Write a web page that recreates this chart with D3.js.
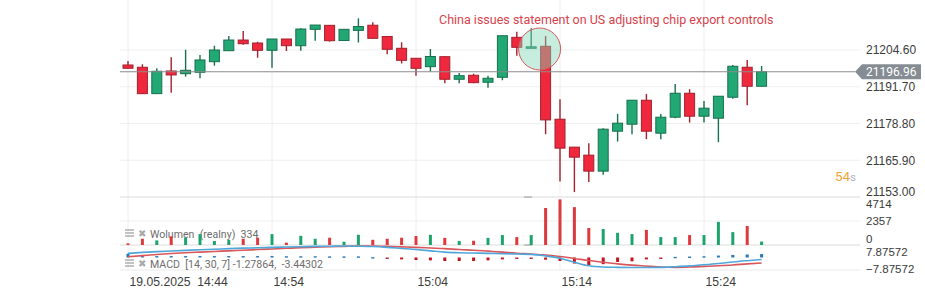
<!DOCTYPE html>
<html>
<head>
<meta charset="utf-8">
<script src="https://cdnjs.cloudflare.com/ajax/libs/d3/7.8.5/d3.min.js"></script>
<style>
  body { margin: 0; background: #fff; }
  svg { display: block; font-family: Roboto, "Open Sans", sans-serif; }
</style>
</head>
<body>
<div class="chart"></div>
<script>
/* global d3 */

// one candle per minute, 19.05.2025
const times = ['14:44', '14:45', '14:46', '14:47', '14:48', '14:49', '14:50', '14:51', '14:52', '14:53',
  '14:54', '14:55', '14:56', '14:57', '14:58', '14:59', '15:00', '15:01', '15:02', '15:03',
  '15:04', '15:05', '15:06', '15:07', '15:08', '15:09', '15:10', '15:11', '15:12', '15:13',
  '15:14', '15:15', '15:16', '15:17', '15:18', '15:19', '15:20', '15:21', '15:22', '15:23',
  '15:24', '15:25', '15:26', '15:27', '15:28'];

const opens = [21199.34, 21198.54, 21189.28, 21197.24, 21196.29, 21196.78, 21200.50, 21204.35, 21208.10, 21207.05,
  21204.50, 21208.46, 21206.11, 21211.86, 21213.26, 21207.93, 21211.50, 21213.30, 21209.33, 21205.20,
  21201.69, 21198.75, 21202.25, 21194.33, 21195.73, 21193.28, 21195.03, 21209.05, 21205.20, 21205.90,
  21180.31, 21170.50, 21167.69, 21162.08, 21176.10, 21178.56, 21186.97, 21175.40, 21181.01, 21189.42,
  21181.36, 21180.66, 21188.02, 21198.54, 21191.88];
const highs = [21200.74, 21199.59, 21198.19, 21202.04, 21204.70, 21202.85, 21206.11, 21209.51, 21211.26, 21207.51,
  21208.46, 21208.46, 21212.20, 21213.36, 21213.36, 21211.96, 21215.71, 21214.34, 21209.40, 21207.30,
  21201.80, 21204.95, 21202.30, 21196.54, 21196.29, 21195.59, 21209.61, 21211.01, 21212.20, 21209.51,
  21187.32, 21170.60, 21171.90, 21177.16, 21182.17, 21187.05, 21189.18, 21182.17, 21192.68, 21190.83,
  21186.72, 21188.45, 21199.34, 21201.10, 21198.99];
const lows = [21198.12, 21189.20, 21189.20, 21189.63, 21195.24, 21194.68, 21199.10, 21204.25, 21206.46, 21201.90,
  21198.40, 21204.25, 21204.35, 21207.86, 21207.58, 21207.86, 21207.23, 21208.60, 21203.10, 21199.87,
  21195.59, 21196.99, 21192.93, 21192.93, 21192.93, 21191.39, 21193.98, 21202.60, 21205.20, 21175.05,
  21158.44, 21154.72, 21158.23, 21160.79, 21172.46, 21175.05, 21173.30, 21173.30, 21180.66, 21179.12,
  21179.12, 21172.25, 21187.53, 21185.22, 21191.80];
const closes = [21198.19, 21189.28, 21197.13, 21195.84, 21197.48, 21201.10, 21204.60, 21208.10, 21206.81, 21204.50,
  21208.46, 21206.11, 21211.96, 21213.36, 21207.86, 21211.86, 21212.84, 21208.70, 21204.85, 21200.99,
  21198.19, 21202.32, 21194.33, 21195.59, 21193.14, 21194.68, 21209.61, 21205.55, 21205.72, 21180.06,
  21170.15, 21166.99, 21162.08, 21176.81, 21178.91, 21186.97, 21176.10, 21181.01, 21189.42, 21181.36,
  21184.17, 21188.37, 21198.89, 21191.88, 21196.96];

const volumes = [160, 615, 455, 845, 715, 1070, 390, 490, 615, 715,
  1070, 230, 900, 615, 715, 320, 1005, 510, 615, 715,
  880, 1000, 700, 400, 420, 700, 975, 780, 975, 3635,
  4480, 3720, 1670, 1570, 1200, 1070, 1480, 780, 780, 975,
  975, 2270, 1265, 1870, 334];

const macdLine = [2.6, 3.2, 3.7, 4.1, 4.5, 4.9, 5.2, 5.6, 5.9, 6.1,
  6.4, 6.6, 6.8, 7.0, 7.1, 7.2, 7.1, 6.9, 6.4, 5.7,
  5.0, 4.2, 3.4, 3.0, 2.8, 2.6, 2.4, 2.2, 2.0, 1.0,
  -0.5, -3.0, -5.2, -6.0, -6.2, -6.3, -6.3, -6.2, -5.8, -5.3,
  -4.6, -3.8, -2.8, -2.0, -1.27864];
const signalLine = [0.5, 1.2, 1.9, 2.5, 3.0, 3.4, 3.8, 4.2, 4.6, 5.0,
  5.4, 5.8, 6.2, 6.5, 6.8, 7.0, 7.2, 7.2, 7.0, 6.7,
  6.4, 6.0, 5.6, 5.0, 4.6, 4.0, 3.4, 2.7, 2.2, 1.6,
  0.6, -0.6, -1.9, -3.0, -4.0, -4.8, -5.4, -6.0, -6.2, -6.0,
  -5.6, -5.2, -4.7, -4.0, -3.44302];
const histogram = [2.4, 0.9, 0.9, 0.9, 0.9, 0.9, 0.9, 0.9, 0.9, 0.9,
  0.9, 0.8, 0.8, 0.8, 0.7, 0.7, 0.7, 0.2, -0.6, -1.2,
  -1.6, -1.8, -2.2, -2.2, -2.2, -1.8, -1.2, -0.6, -0.2, -1.4,
  -2.2, -3.8, -4.8, -4.2, -2.8, -2.4, -1.2, -0.2, 0.4, 0.6,
  0.8, 1.2, 1.6, 1.9, 2.16];

const priceTicks = [21204.60, 21191.70, 21178.80, 21165.90, 21153.00];
const volumeTicks = [4714, 2357, 0];
const macdTicks = [7.87572, -7.87572];
const timeTicks = ['14:44', '14:54', '15:04', '15:14', '15:24'];
const lastPrice = 21196.96;
const eventText = 'China issues statement on US adjusting chip export controls';
const eventTime = '15:13';

const candles = times.map((t, i) => ({
  t: t, o: opens[i], h: highs[i], l: lows[i], c: closes[i], v: volumes[i],
  macd: macdLine[i], sig: signalLine[i], hist: histogram[i]
}));

document.addEventListener('DOMContentLoaded', () => {
  const width = 925;
  const height = 292;
  const left = 120;
  const right = 860;
  const axisX = 866;

  const red = '#f0283d';
  const redDark = '#a3202c';
  const green = '#22a874';
  const greenDark = '#17704d';

  const parse = d3.timeParse('%H:%M');

  const x = d3.scaleTime().domain([parse('14:44'), parse('15:24')]).range([128, 704]);
  const y = d3.scaleLinear().domain([21153, 21204.6]).range([197, 50]);
  const yVol = d3.scaleLinear().domain([0, 4714]).range([245, 197]);
  const yMacd = d3.scaleLinear().domain([-7.87572, 7.87572]).range([270, 245]);

  const svg = d3.select('.chart').append('svg')
    .attr('width', width).attr('height', height);

  // grid
  const grid = svg.append('g');
  grid.selectAll('.vgrid').data(timeTicks).enter().append('line')
    .attr('x1', d => x(parse(d))).attr('x2', d => x(parse(d)))
    .attr('y1', 0).attr('y2', 270)
    .attr('stroke', '#eeeeee');
  grid.selectAll('.hgrid').data(priceTicks.slice(0, 4)).enter().append('line')
    .attr('x1', left).attr('x2', right)
    .attr('y1', d => y(d)).attr('y2', d => y(d))
    .attr('stroke', '#efefef');
  grid.append('line').attr('x1', left).attr('x2', right)
    .attr('y1', yVol(2357)).attr('y2', yVol(2357)).attr('stroke', '#efefef');
  // pane borders
  [197, 245, 270].forEach((py, i) => {
    grid.append('line').attr('x1', left).attr('x2', right)
      .attr('y1', py).attr('y2', py)
      .attr('stroke', i === 2 ? '#eaeaea' : '#dcdcdc');
  });
  // pane handles
  [196, 244].forEach(py => {
    grid.append('rect').attr('x', 524).attr('y', py).attr('width', 8).attr('height', 2)
      .attr('fill', '#c4c4c4');
  });

  // legends (drawn under the volume bars)
  const legend = svg.append('g').attr('fill', '#6e6e6e').style('font-size', '10.6px');
  function legendIcons(cy) {
    [-3, 0, 3].forEach(dy => {
      legend.append('rect').attr('x', 125).attr('y', cy + dy - 0.7)
        .attr('width', 9).attr('height', 1.4).attr('fill', '#aaa');
    });
    legend.append('text').attr('x', 138).attr('y', cy + 4)
      .style('font-family', 'DejaVu Sans').style('font-size', '10px')
      .attr('fill', '#aaa').text('\u2716');
  }
  legendIcons(233);
  legendIcons(263);
  legend.append('text').attr('x', 150).attr('y', 238).style('white-space', 'pre')
    .text('Wolumen  (realny)  334');
  legend.append('text').attr('x', 150).attr('y', 268).style('white-space', 'pre')
    .text('MACD  [14, 30, 7] -1.27864,  -3.44302');

  // volume
  svg.append('g').selectAll('rect').data(candles).enter().append('rect')
    .attr('x', d => x(parse(d.t)) - 1.5)
    .attr('y', d => yVol(d.v))
    .attr('width', 3)
    .attr('height', d => yVol(0) - yVol(d.v))
    .attr('fill', d => d.c >= d.o ? '#1ea36c' : '#dd3a3e');

  // macd histogram
  svg.append('g').selectAll('rect').data(candles).enter().append('rect')
    .attr('x', d => x(parse(d.t)) - 1.5)
    .attr('y', d => Math.min(yMacd(0), yMacd(d.hist)))
    .attr('width', 3)
    .attr('height', d => Math.max(1.4, Math.abs(yMacd(d.hist) - yMacd(0))))
    .attr('fill', d => d.hist >= 0 ? '#2677b5' : '#c3121c');

  const macdPath = key => d3.line()
    .x(d => x(parse(d.t)))
    .y(d => yMacd(d[key]))
    .curve(d3.curveMonotoneX);
  svg.append('path').datum(candles).attr('d', macdPath('sig'))
    .attr('fill', 'none').attr('stroke', '#d9575a').attr('stroke-width', 1.6);
  svg.append('path').datum(candles).attr('d', macdPath('macd'))
    .attr('fill', 'none').attr('stroke', '#4fa6da').attr('stroke-width', 1.6);

  // candles
  const cg = svg.append('g').selectAll('g').data(candles).enter().append('g');
  cg.append('line')
    .attr('x1', d => x(parse(d.t))).attr('x2', d => x(parse(d.t)))
    .attr('y1', d => y(d.h)).attr('y2', d => y(d.l))
    .attr('stroke', d => d.c >= d.o ? greenDark : redDark)
    .attr('stroke-width', 1.4);
  cg.append('rect')
    .attr('x', d => x(parse(d.t)) - 5)
    .attr('y', d => y(Math.max(d.o, d.c)))
    .attr('width', 10)
    .attr('height', d => Math.max(1, Math.abs(y(d.o) - y(d.c))))
    .attr('fill', d => d.c >= d.o ? green : red)
    .attr('stroke', d => d.c >= d.o ? greenDark : redDark)
    .attr('stroke-width', 1);

  // last price line
  svg.append('line').attr('x1', left).attr('x2', 855)
    .attr('y1', y(lastPrice)).attr('y2', y(lastPrice))
    .attr('stroke', '#8c8c8c').attr('stroke-width', 1.2);

  // event marker
  const ev = candles.find(d => d.t === eventTime);
  svg.append('circle')
    .attr('cx', x(parse(eventTime)) - 6)
    .attr('cy', y(ev.o) + 2.7)
    .attr('r', 21)
    .attr('fill', 'rgba(130, 215, 185, 0.45)')
    .attr('stroke', '#d9585c').attr('stroke-width', 1);
  svg.append('text').attr('x', 439).attr('y', 24)
    .attr('fill', '#d8424b').style('font-size', '12.5px')
    .text(eventText);

  // right axes
  const axisText = (sel, dys) => sel.selectAll('text')
    .attr('fill', '#3c3c3c').style('font-size', '12px')
    .attr('x', 0).attr('dy', (d, i) => dys[i]);

  const priceAxis = svg.append('g').attr('transform', `translate(${axisX},0)`)
    .call(d3.axisRight(y).tickValues(priceTicks).tickFormat(d3.format('.2f')).tickSize(0));
  priceAxis.select('.domain').remove();
  priceAxis.call(s => axisText(s, ['0.32em', '0.3em', '0.32em', '0.32em', '-0.1em']));

  const volAxis = svg.append('g').attr('transform', `translate(${axisX},0)`)
    .call(d3.axisRight(yVol).tickValues(volumeTicks).tickFormat(d3.format('d')).tickSize(0));
  volAxis.select('.domain').remove();
  volAxis.call(s => axisText(s, ['0.9em', '0.3em', '-0.2em']));
  volAxis.selectAll('text').style('font-size', '11.5px');

  const macdAxis = svg.append('g').attr('transform', `translate(${axisX},0)`)
    .call(d3.axisRight(yMacd).tickValues(macdTicks).tickFormat(d3.format('.5f')).tickSize(0));
  macdAxis.select('.domain').remove();
  macdAxis.call(s => axisText(s, ['0.95em', '0.2em']));
  macdAxis.selectAll('text').style('font-size', '11.5px');

  // last price tag
  const ly = y(lastPrice);
  svg.append('path')
    .attr('d', `M855,${ly} L862,${ly - 7.5} L921,${ly - 7.5} L921,${ly + 7.5} L862,${ly + 7.5} Z`)
    .attr('fill', '#858c93');
  svg.append('text').attr('x', axisX).attr('y', ly + 4.5)
    .attr('fill', '#fff').style('font-size', '12px').text(d3.format('.2f')(lastPrice));

  // countdown
  const cd = svg.append('text').attr('x', 835).attr('y', 181);
  cd.append('tspan').attr('fill', '#f0a43a').style('font-size', '13.5px').text('54');
  cd.append('tspan').attr('fill', '#a8b4c0').style('font-size', '11px').text('s');

  // time axis
  const timeAxis = svg.append('g').attr('transform', 'translate(0,270)')
    .call(d3.axisBottom(x).tickValues(timeTicks.map(parse)).tickSize(0)
      .tickFormat((d, i) => i === 0 ? '19.05.2025  ' + d3.timeFormat('%H:%M')(d) : d3.timeFormat('%H:%M')(d)));
  timeAxis.select('.domain').remove();
  timeAxis.selectAll('text')
    .attr('text-anchor', 'start').attr('x', 1).attr('y', 16).attr('dy', 0)
    .style('white-space', 'pre')
    .attr('fill', '#3c3c3c').style('font-size', '12.2px');
});
</script>
</body>
</html>
